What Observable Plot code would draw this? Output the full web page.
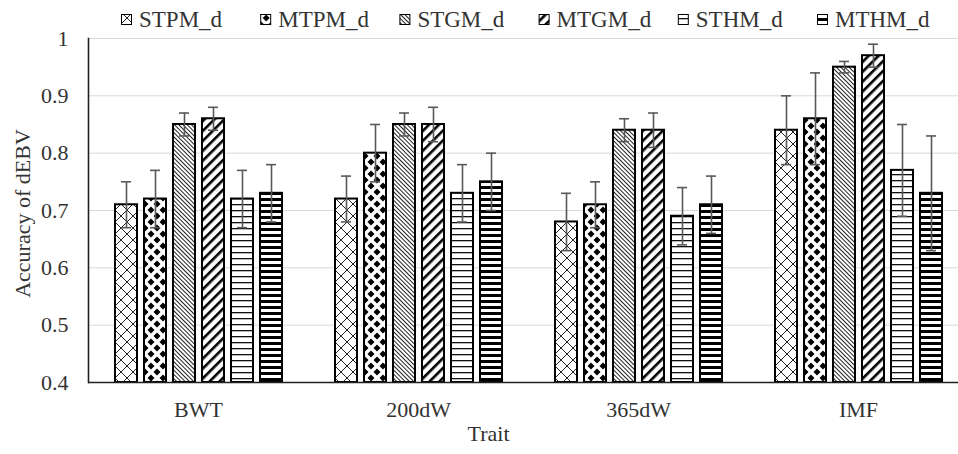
<!DOCTYPE html>
<html>
<head>
<meta charset="utf-8">
<script src="https://cdn.jsdelivr.net/npm/d3@7"></script>
<script src="https://cdn.jsdelivr.net/npm/@observablehq/plot@0.6"></script>
<style>
  html, body { margin: 0; padding: 0; background: #fff; overflow: hidden; }
  body { position: relative; width: 958px; height: 454px; font-family: "Liberation Serif", "Times New Roman", serif; }
  #defs { position: absolute; width: 0; height: 0; }
  #legend { position: absolute; left: 0; top: 0; z-index: 2; }
  svg { display: block; }
</style>
</head>
<body>
<svg id="defs" width="0" height="0">
  <defs>
    <pattern id="pat0" patternUnits="userSpaceOnUse" width="12" height="12">
      <rect width="12" height="12" fill="#fff"/>
      <path d="M0,0L12,12M12,0L0,12" stroke="#222" stroke-width="1" fill="none"/>
    </pattern>
    <pattern id="pat1" patternUnits="userSpaceOnUse" width="12" height="12">
      <rect width="12" height="12" fill="#fff"/>
      <path d="M6,2.5L9.5,6L6,9.5L2.5,6Z" fill="#000"/>
      <path d="M0,-3.5L3.5,0L0,3.5L-3.5,0Z M12,-3.5L15.5,0L12,3.5L8.5,0Z M0,8.5L3.5,12L0,15.5L-3.5,12Z M12,8.5L15.5,12L12,15.5L8.5,12Z" fill="#000"/>
    </pattern>
    <pattern id="pat2" patternUnits="userSpaceOnUse" width="3" height="3" patternTransform="rotate(45)">
      <rect width="3" height="3" fill="#fff"/>
      <rect width="3" height="1" fill="#222"/>
    </pattern>
    <pattern id="pat3" patternUnits="userSpaceOnUse" width="7" height="7" patternTransform="rotate(-45)">
      <rect width="7" height="7" fill="#fff"/>
      <rect width="7" height="2.6" fill="#000"/>
    </pattern>
    <pattern id="pat4" patternUnits="userSpaceOnUse" width="6" height="6">
      <rect width="6" height="6" fill="#fff"/>
      <rect width="6" height="1.3" fill="#111"/>
    </pattern>
    <pattern id="pat5" patternUnits="userSpaceOnUse" width="6" height="6">
      <rect width="6" height="6" fill="#fff"/>
      <rect width="6" height="3" fill="#000"/>
    </pattern>
  </defs>
</svg>
<div id="legend"></div>
<div id="chart"></div>
<script>
// ---- data ----
const traits = ["BWT", "200dW", "365dW", "IMF"];
const models = ["STPM_d", "MTPM_d", "STGM_d", "MTGM_d", "STHM_d", "MTHM_d"];
const yTicks = [0.4, 0.5, 0.6, 0.7, 0.8, 0.9, 1];

const STPM_d = [0.71, 0.72, 0.68, 0.84];
const MTPM_d = [0.72, 0.80, 0.71, 0.86];
const STGM_d = [0.85, 0.85, 0.84, 0.95];
const MTGM_d = [0.86, 0.85, 0.84, 0.97];
const STHM_d = [0.72, 0.73, 0.69, 0.77];
const MTHM_d = [0.73, 0.75, 0.71, 0.73];

const STPM_err = [0.04, 0.04, 0.05, 0.06];
const MTPM_err = [0.05, 0.05, 0.04, 0.08];
const STGM_err = [0.02, 0.02, 0.02, 0.01];
const MTGM_err = [0.02, 0.03, 0.03, 0.02];
const STHM_err = [0.05, 0.05, 0.05, 0.08];
const MTHM_err = [0.05, 0.05, 0.05, 0.10];

const accBy = [STPM_d, MTPM_d, STGM_d, MTGM_d, STHM_d, MTHM_d];
const errBy = [STPM_err, MTPM_err, STGM_err, MTGM_err, STHM_err, MTHM_err];

const rows = [];
traits.forEach((t, i) => models.forEach((m, j) => {
  rows.push({trait: t, model: m, acc: accBy[j][i], err: errBy[j][i]});
}));

const patterns = models.map((m, j) => `url(#pat${j})`);
const yMin = yTicks[0];
const FONT = "'Liberation Serif', 'Times New Roman', serif";
const TEXT = "#333";

// ---- legend (drawn above the plot area, at the top of the picture) ----
const leg = d3.select("#legend").append("svg")
  .attr("width", 958).attr("height", 34)
  .attr("font-family", FONT).attr("font-size", 23).attr("fill", TEXT);
const item = leg.selectAll("g").data(models).join("g")
  .attr("transform", (d, j) => `translate(${121 + j * 139.2},0)`);
item.append("rect").attr("x", 0.5).attr("y", 14.5).attr("width", 10).attr("height", 10)
  .attr("fill", (d, j) => patterns[j]).attr("stroke", "#000").attr("stroke-width", 1);
item.append("text").attr("x", 18).attr("y", 27).text(d => d);

// ---- chart ----
const gap = 25; // half of the gap between trait groups, to join grid lines
const chart = Plot.plot({
  width: 958,
  height: 454,
  marginTop: 38,
  marginBottom: 72,
  marginLeft: 88,
  marginRight: -10,
  style: {fontFamily: FONT, fontSize: "22px", color: TEXT, background: "#fff"},
  fx: {domain: traits, paddingInner: 0.2273, paddingOuter: 0.1136, label: null, axis: "bottom", tickSize: 0, tickPadding: 19},
  x: {domain: models, paddingInner: 0.246, paddingOuter: 0, axis: null},
  y: {domain: [yMin, 1], axis: null},
  color: {type: "ordinal", domain: models, range: patterns},
  marks: [
    Plot.ruleY(yTicks.slice(1), {stroke: "#d9d9d9", strokeWidth: 1, insetLeft: -gap, insetRight: -gap}),
    Plot.barY(rows, {fx: "trait", x: "model", y1: () => yMin, y2: "acc", fill: "model", stroke: "#000", strokeWidth: 2}),
    Plot.ruleX(rows, {fx: "trait", x: "model", y1: d => d.acc - d.err, y2: d => d.acc + d.err, stroke: "#595959", strokeWidth: 1.6}),
    Plot.tickY(rows, {fx: "trait", x: "model", y: d => d.acc + d.err, stroke: "#595959", strokeWidth: 1.6, insetLeft: 6, insetRight: 6}),
    Plot.tickY(rows, {fx: "trait", x: "model", y: d => d.acc - d.err, stroke: "#595959", strokeWidth: 1.6, insetLeft: 6, insetRight: 6}),
    Plot.ruleY([yMin], {stroke: "#222", strokeWidth: 1.6, insetLeft: -gap, insetRight: -gap}),
    Plot.frame({facetAnchor: "left", anchor: "left", stroke: "#222", strokeWidth: 1.6, dx: -gap}),
    Plot.text(yTicks, {fx: () => traits[0], y: d => d, text: d => String(d), frameAnchor: "left", textAnchor: "end", dx: -gap - 20, fill: TEXT}),
    Plot.text(["Accuracy of dEBV"], {fx: () => traits[0], frameAnchor: "left", textAnchor: "middle", lineAnchor: "middle", rotate: -90, dx: -gap - 66, dy: 3, fill: TEXT}),
    Plot.text(["Trait"], {fx: () => traits[1], frameAnchor: "bottom", textAnchor: "middle", lineAnchor: "middle", dx: 70, dy: 51, fill: TEXT})
  ]
});
document.getElementById("chart").appendChild(chart);
</script>
</body>
</html>
